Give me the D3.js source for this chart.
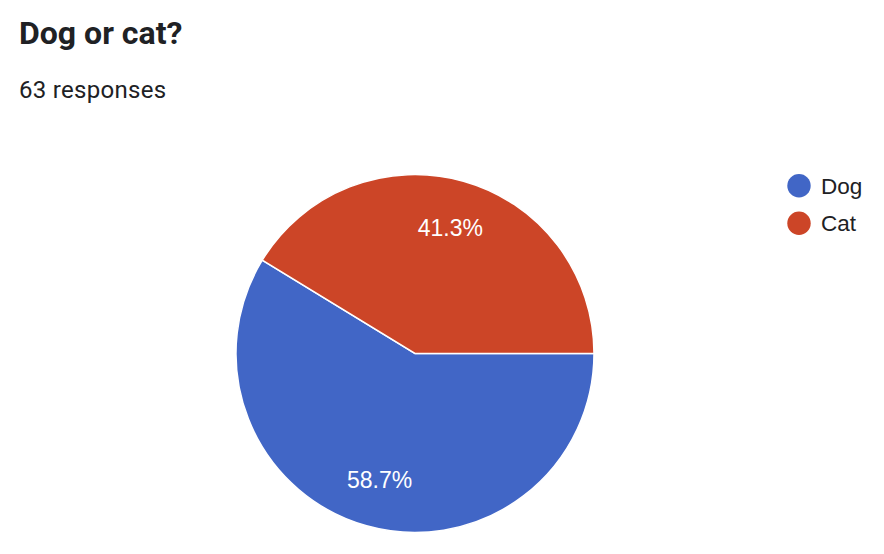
<!DOCTYPE html>
<html>
<head>
<meta charset="utf-8">
<script src="https://cdn.jsdelivr.net/npm/d3@7"></script>
<style>
  body { margin: 0; background: #fff; }
</style>
</head>
<body>
<script>
// chart data
const categories = ["Dog", "Cat"]
const counts = [37, 26]
const colors = ["#4166c6", "#cc4527"]
const title = "Dog or cat?"
const subtitle = "63 responses"

const W = 884, H = 554
const cx = 415, cy = 353.5, r = 179

let svg = d3.select("body")
    .append("svg")
    .attr("width", W)
    .attr("height", H)

svg.append("text")
    .attr("x", 19)
    .attr("y", 44)
    .style("font-family", "Roboto")
    .style("font-weight", "bold")
    .style("font-size", "32px")
    .style("fill", "#202124")
    .text(title)

svg.append("text")
    .attr("x", 19)
    .attr("y", 97.5)
    .style("font-family", "Roboto")
    .style("font-size", "24px")
    .style("letter-spacing", "0.3px")
    .style("fill", "#202124")
    .text(subtitle)

let total = d3.sum(counts)
let color = d3.scaleOrdinal().domain(categories).range(colors)

let pie = d3.pie()
    .sort(null)
    .startAngle(Math.PI / 2)
    .endAngle(Math.PI / 2 + 2 * Math.PI)
    .value(d => d.v)

let slices = pie(categories.map((c, i) => ({ c: c, v: counts[i] })))

let arc = d3.arc().innerRadius(0).outerRadius(r)
let labelArc = d3.arc().innerRadius(r * 0.73).outerRadius(r * 0.73)

let g = svg.append("g").attr("transform", `translate(${cx},${cy})`)

g.selectAll("path")
    .data(slices)
    .enter()
    .append("path")
    .attr("d", arc)
    .attr("fill", d => color(d.data.c))
    .attr("stroke", "#fff")
    .attr("stroke-width", 1.5)

g.selectAll("text")
    .data(slices)
    .enter()
    .append("text")
    .attr("transform", d => `translate(${labelArc.centroid(d)})`)
    .attr("text-anchor", "middle")
    .attr("dy", "0.36em")
    .style("font-family", "Liberation Sans, Arial, sans-serif")
    .style("font-size", "23px")
    .style("fill", "#fff")
    .text(d => (d.data.v / total * 100).toFixed(1) + "%")

// legend
let legend = svg.append("g")
    .selectAll("g")
    .data(categories)
    .enter()
    .append("g")
    .attr("transform", (d, i) => `translate(799,${185.7 + i * 37.6})`)

legend.append("circle")
    .attr("r", 11.7)
    .attr("fill", d => color(d))

legend.append("text")
    .attr("x", 22)
    .attr("dy", "0.36em")
    .style("font-family", "Liberation Sans, Arial, sans-serif")
    .style("font-size", "22.5px")
    .style("fill", "#202124")
    .text(d => d)
</script>
</body>
</html>
